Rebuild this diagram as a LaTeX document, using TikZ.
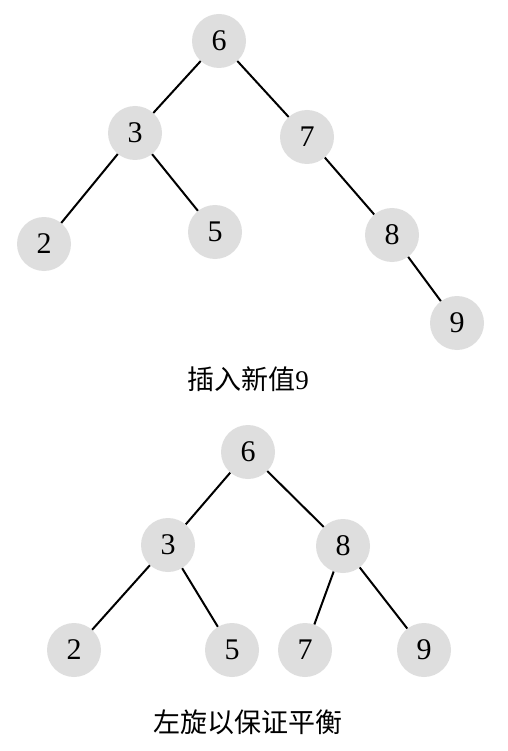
\documentclass[tikz,border=0pt]{standalone}
\usepackage{fontspec}
\setmainfont{Liberation Serif}
\newfontfamily\cjk{Noto Sans CJK SC}
\definecolor{nodegray}{HTML}{DEDEDE}
\begin{document}
\begin{tikzpicture}[x=1pt,y=-1pt,
  tnode/.style={circle,fill=nodegray,minimum size=54pt,inner sep=0pt,font=\fontsize{30}{30}\selectfont},
  edge/.style={line width=2pt,black},
  caption/.style={font=\fontsize{27}{30}\selectfont,inner sep=0pt}]
\useasboundingbox (0,0) rectangle (507,751);
% top tree
\node[tnode] (a6) at (219,41) {6};
\node[tnode] (a3) at (135,133) {3};
\node[tnode] (a7) at (307,137) {7};
\node[tnode] (a2) at (44,244) {2};
\node[tnode] (a5) at (215,232) {5};
\node[tnode] (a8) at (392,235) {8};
\node[tnode] (a9) at (457,323) {9};
\draw[edge] (a6) -- (a3);
\draw[edge] (a6) -- (a7);
\draw[edge] (a3) -- (a2);
\draw[edge] (a3) -- (a5);
\draw[edge] (a7) -- (a8);
\draw[edge] (a8) -- (a9);
\node[caption] (c1) at (248,379) {{\cjk 插入新值}9};
% bottom tree
\node[tnode] (b6) at (248,452) {6};
\node[tnode] (b3) at (168,545) {3};
\node[tnode] (b8) at (343,546) {8};
\node[tnode] (b2) at (74,650) {2};
\node[tnode] (b5) at (232,650) {5};
\node[tnode] (b7) at (305,650) {7};
\node[tnode] (b9) at (424,650) {9};
\draw[edge] (b6) -- (b3);
\draw[edge] (b6) -- (b8);
\draw[edge] (b3) -- (b2);
\draw[edge] (b3) -- (b5);
\draw[edge] (b8) -- (b7);
\draw[edge] (b8) -- (b9);
\node[caption] (c2) at (248,722) {\cjk 左旋以保证平衡};
\end{tikzpicture}
\end{document}
